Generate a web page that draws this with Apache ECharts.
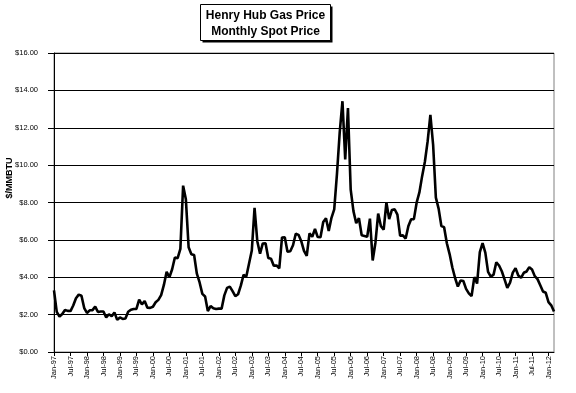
<!DOCTYPE html>
<html>
<head>
<meta charset="utf-8">
<script src="https://cdn.jsdelivr.net/npm/echarts@6/dist/echarts.min.js"></script>
<style>html,body{margin:0;padding:0;background:#fff;}#c{width:576px;height:393px;}</style>
</head>
<body>
<div id="c"></div>
<script>
// Month names and years used to build category labels
var monthNames = ['Jan','Feb','Mar','Apr','May','Jun','Jul','Aug','Sep','Oct','Nov','Dec'];
var years = ['97','98','99','00','01','02','03','04','05','06','07','08','09','10','11','12'];

// Monthly spot prices ($/MMBTU), one array per year
var p1997 = [3.30, 2.15, 1.89, 2.03, 2.25, 2.20, 2.19, 2.49, 2.88, 3.07, 3.01, 2.35];
var p1998 = [2.09, 2.23, 2.24, 2.43, 2.14, 2.17, 2.17, 1.85, 2.02, 1.91, 2.12, 1.72];
var p1999 = [1.85, 1.77, 1.79, 2.15, 2.26, 2.30, 2.31, 2.80, 2.55, 2.73, 2.37, 2.36];
var p2000 = [2.42, 2.66, 2.79, 3.04, 3.59, 4.29, 3.99, 4.43, 5.06, 5.02, 5.52, 8.90];
var p2001 = [8.17, 5.61, 5.23, 5.19, 4.19, 3.72, 3.11, 2.97, 2.19, 2.46, 2.34, 2.30];
var p2002 = [2.32, 2.32, 3.03, 3.43, 3.50, 3.26, 2.99, 3.09, 3.55, 4.13, 4.04, 4.74];
var p2003 = [5.43, 7.71, 5.93, 5.26, 5.81, 5.82, 5.03, 4.99, 4.62, 4.63, 4.47, 6.13];
var p2004 = [6.14, 5.37, 5.39, 5.71, 6.33, 6.27, 5.93, 5.41, 5.15, 6.35, 6.17, 6.58];
var p2005 = [6.15, 6.14, 6.96, 7.16, 6.47, 7.18, 7.63, 9.53, 11.75, 13.42, 10.30, 13.05];
var p2006 = [8.69, 7.54, 6.89, 7.16, 6.25, 6.21, 6.17, 7.14, 4.90, 5.85, 7.41, 6.73];
var p2007 = [6.55, 8.00, 7.11, 7.60, 7.64, 7.35, 6.22, 6.24, 6.07, 6.74, 7.10, 7.11];
var p2008 = [7.99, 8.54, 9.41, 10.18, 11.27, 12.69, 11.09, 8.26, 7.67, 6.74, 6.68, 5.82];
var p2009 = [5.24, 4.52, 3.96, 3.50, 3.83, 3.80, 3.38, 3.14, 2.99, 4.01, 3.66, 5.35];
var p2010 = [5.83, 5.32, 4.29, 4.03, 4.14, 4.80, 4.63, 4.32, 3.89, 3.43, 3.71, 4.25];
var p2011 = [4.49, 4.09, 3.97, 4.24, 4.31, 4.54, 4.42, 4.06, 3.90, 3.57, 3.24, 3.17];
var p2012 = [2.67, 2.50, 2.17];

var yTicks = [0, 2, 4, 6, 8, 10, 12, 14, 16];

var prices = [].concat(p1997, p1998, p1999, p2000, p2001, p2002, p2003, p2004,
  p2005, p2006, p2007, p2008, p2009, p2010, p2011, p2012);
var categories = [];
for (var yi = 0; yi < years.length; yi++) {
  for (var mi = 0; mi < 12; mi++) {
    if (categories.length < prices.length) categories.push(monthNames[mi] + '-' + years[yi]);
  }
}

var chart = echarts.init(document.getElementById('c'), null, {renderer: 'canvas'});
var font = 'Arial, "Liberation Sans", sans-serif';
chart.setOption({
  animation: false,
  backgroundColor: '#ffffff',
  grid: {left: 54, right: 22, top: 53, bottom: 41, containLabel: false, outerBoundsMode: 'none',
    show: true, borderColor: '#808080', borderWidth: 1, backgroundColor: '#ffffff'},
  xAxis: {
    type: 'category',
    data: categories,
    boundaryGap: false,
    axisLine: {lineStyle: {color: '#000', width: 1}},
    axisTick: {show: true, interval: 5, length: 4, lineStyle: {color: '#000'}},
    axisLabel: {interval: 5, rotate: 90, fontSize: 7.5, color: '#000', fontFamily: font, margin: 4}
  },
  yAxis: {
    type: 'value',
    min: yTicks[0], max: yTicks[yTicks.length - 1], interval: 2,
    axisLine: {show: true, lineStyle: {color: '#000', width: 1}},
    axisTick: {show: true, length: 6, lineStyle: {color: '#000'}},
    splitLine: {show: true, lineStyle: {color: '#000', width: 1}},
    axisLabel: {fontSize: 7.5, color: '#000', fontFamily: font, margin: 16,
      formatter: function (v) { return '$' + v.toFixed(2); }}
  },
  series: [{
    type: 'line',
    data: prices,
    showSymbol: false,
    symbol: 'none',
    lineStyle: {color: '#000', width: 2.6},
    z: 5
  }],
  graphic: [{
    type: 'group', left: 200, top: 4,
    children: [
      {type: 'rect', shape: {x: 2, y: 2, width: 130, height: 36}, style: {fill: '#000'}},
      {type: 'rect', shape: {x: 0, y: 0, width: 130, height: 36}, style: {fill: '#fff', stroke: '#000', lineWidth: 1}},
      {type: 'text', style: {x: 65, y: 11, text: 'Henry Hub Gas Price', textAlign: 'center', textVerticalAlign: 'middle', fontSize: 12, fontWeight: 'bold', fontFamily: font, fill: '#000'}},
      {type: 'text', style: {x: 65, y: 27, text: 'Monthly Spot Price', textAlign: 'center', textVerticalAlign: 'middle', fontSize: 12, fontWeight: 'bold', fontFamily: font, fill: '#000'}}
    ]
  }, {
    type: 'text', x: 10, y: 178, rotation: Math.PI / 2,
    style: {text: '$/MMBTU', textAlign: 'center', textVerticalAlign: 'middle', fontSize: 9, fontWeight: 'bold', fontFamily: font, fill: '#000'}
  }]
});
</script>
</body>
</html>
